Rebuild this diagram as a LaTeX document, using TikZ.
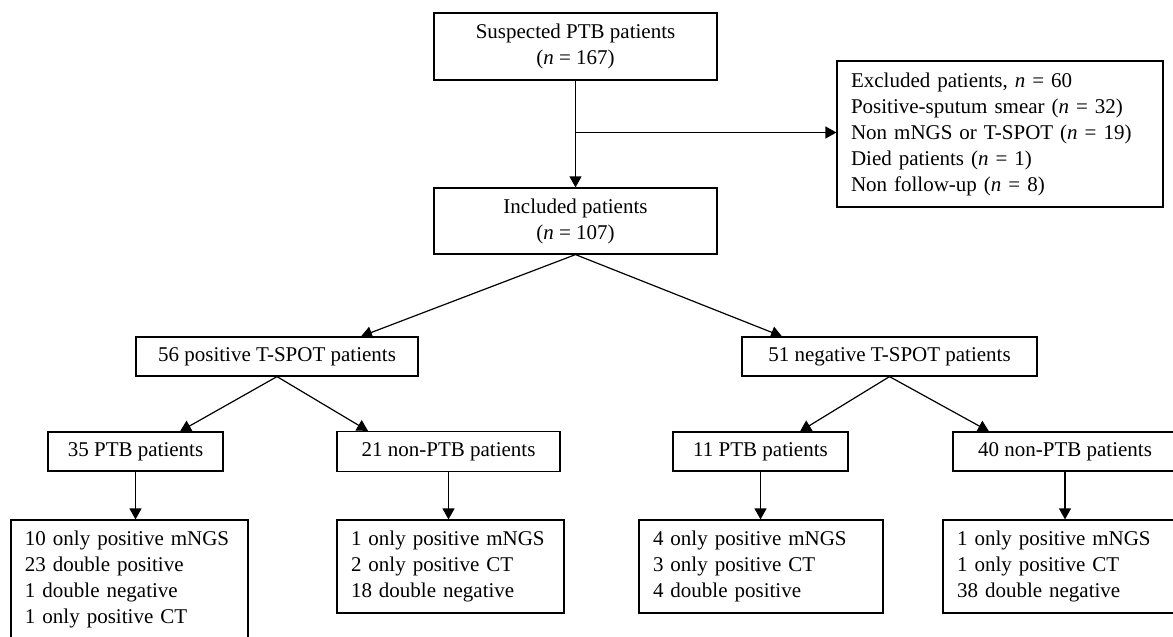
\documentclass[tikz,border=0pt]{standalone}
\usepackage{fontspec}
\setmainfont{Liberation Serif}
\usepackage{tikz}
\usetikzlibrary{arrows.meta,calc}

\tikzset{
  box/.style={draw,line width=0.6pt,inner sep=2pt,align=center,
              font=\fontsize{10.5}{13}\selectfont},
  listbox/.style={box,align=left,inner xsep=7pt},
  arr/.style={line width=0.6pt,-{Triangle[length=5.5pt,width=6pt]}}
}

\begin{document}
\begin{tikzpicture}[x=0.5pt,y=-0.5pt]
  \useasboundingbox (0,0) rectangle (1173,637);
  \pgfmathsetmacro\rowa{356.5}   % T-SPOT row
  \pgfmathsetmacro\rowb{451.5}   % PTB / non-PTB row
  \pgfmathsetmacro\rowc{566.5}   % result boxes

% top of the chart
  \node[box,minimum width=141.5pt,minimum height=33.5pt] (susp) at (575.5,46.5)
        {Suspected PTB patients\\(\textit{n} = 167)};
  \node[listbox,text width=149pt,minimum height=73pt] (excl) at (1000,134)
        {Excluded patients, \textit{n} = 60\\
         Positive-sputum smear (\textit{n} = 32)\\
         Non mNGS or T-SPOT (\textit{n} = 19)\\
         Died patients (\textit{n} = 1)\\
         Non follow-up (\textit{n} = 8)};
  \node[box,minimum width=141.5pt,minimum height=33pt] (incl) at (575.5,221)
        {Included patients\\(\textit{n} = 107)};
  \coordinate (br) at (575.5,132.5);

% T-SPOT split
  \node[box,minimum width=141pt,minimum height=19.5pt] (pos) at (277,\rowa) {56 positive T-SPOT patients};
  \node[box,minimum width=147.5pt,minimum height=19.5pt] (neg) at (889.5,\rowa) {51 negative T-SPOT patients};

% PTB split
  \node[box,minimum width=87.5pt,minimum height=19.5pt] (ptbA) at (135.5,\rowb) {35 PTB patients};
  \node[box,minimum width=111.5pt,minimum height=20pt] (nonA) at (448.5,\rowb) {21 non-PTB patients};
  \node[box,minimum width=87.5pt,minimum height=19.5pt] (ptbB) at (760.5,\rowb) {11 PTB patients};
  \node[box,minimum width=112pt,minimum height=19.5pt] (nonB) at (1065,\rowb) {40 non-PTB patients};

% mNGS / CT results
  \node[listbox,text width=104.5pt,minimum height=59.5pt] (resA) at (129.5,579.5)
        {10 only positive mNGS\\23 double positive\\1 double negative\\1 only positive CT};
  \node[listbox,text width=99.5pt,minimum height=46.5pt] (resB) at (450.5,\rowc)
        {1 only positive mNGS\\2 only positive CT\\18 double negative};
  \node[listbox,text width=108pt,minimum height=46.5pt] (resC) at (761,\rowc)
        {4 only positive mNGS\\3 only positive CT\\4 double positive};
  \node[listbox,text width=108pt,minimum height=46.5pt] (resD) at (1065,\rowc)
        {1 only positive mNGS\\1 only positive CT\\38 double negative};

% arrows
  \draw[arr] (susp.south) -- (incl.north);
  \draw[arr] (br) -- (br -| excl.west);
  \draw[arr] (incl.south) -- ([xshift=42pt]pos.north);
  \draw[arr] (incl.south) -- ([xshift=-53.75pt]neg.north);
  \draw[arr] (pos.south) -- ([xshift=22.25pt]ptbA.north);
  \draw[arr] (pos.south) -- ([xshift=-40.25pt]nonA.north);
  \draw[arr] (neg.south) -- ([xshift=19.75pt]ptbB.north);
  \draw[arr] (neg.south) -- ([xshift=-38pt]nonB.north);
  \draw[arr] (ptbA.south) -- (ptbA.south |- resA.north);
  \draw[arr] (nonA.south) -- (nonA.south |- resB.north);
  \draw[arr] (ptbB.south) -- (ptbB.south |- resC.north);
  \draw[arr] (nonB.south) -- (nonB.south |- resD.north);
\end{tikzpicture}
\end{document}
